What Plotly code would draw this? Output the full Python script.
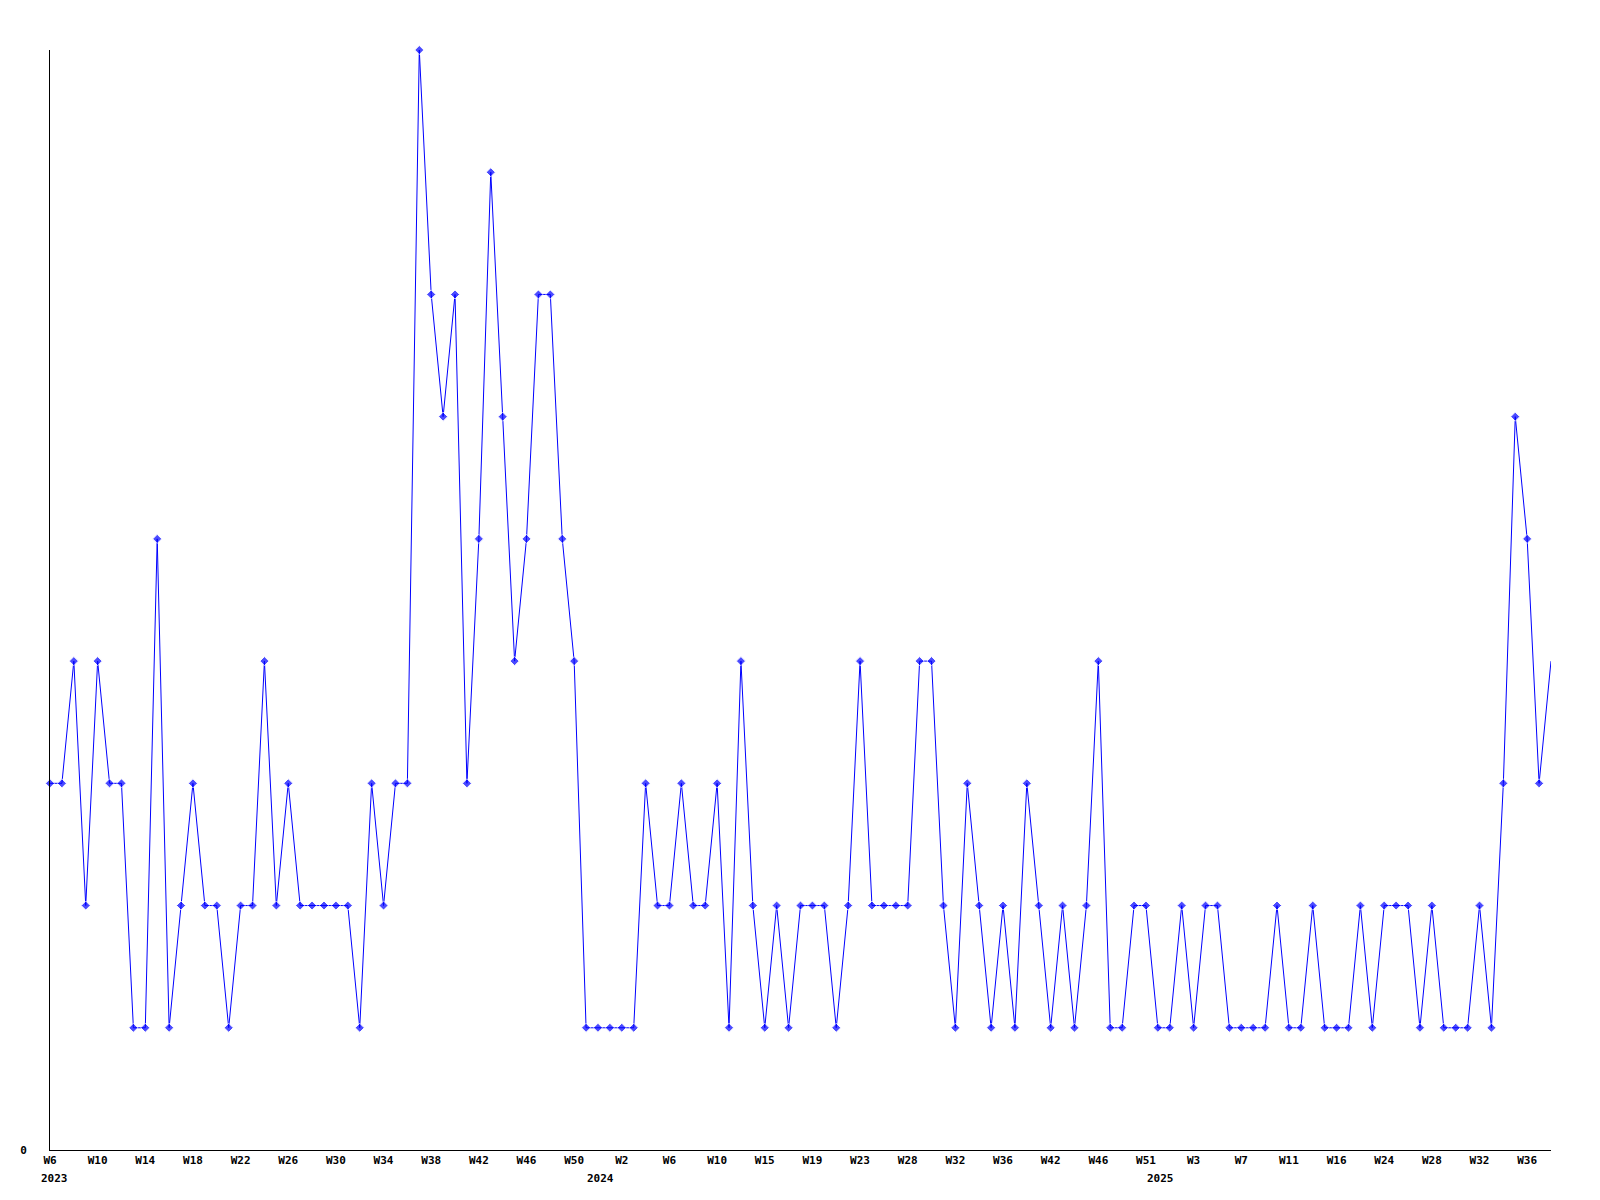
import plotly.graph_objects as go

# weekly values, 2023-W6 .. 2025-W38 (one point per reported week)
values = [
    3, 3, 4, 2, 4, 3, 3, 1, 1, 5,
    1, 2, 3, 2, 2, 1, 2, 2, 4, 2,
    3, 2, 2, 2, 2, 2, 1, 3, 2, 3,
    3, 9, 7, 6, 7, 3, 5, 8, 6, 4,
    5, 7, 7, 5, 4, 1, 1, 1, 1, 1,
    3, 2, 2, 3, 2, 2, 3, 1, 4, 2,
    1, 2, 1, 2, 2, 2, 1, 2, 4, 2,
    2, 2, 2, 4, 4, 2, 1, 3, 2, 1,
    2, 1, 3, 2, 1, 2, 1, 2, 4, 1,
    1, 2, 2, 1, 1, 2, 1, 2, 2, 1,
    1, 1, 1, 2, 1, 1, 2, 1, 1, 1,
    2, 1, 2, 2, 2, 1, 2, 1, 1, 1,
    2, 1, 3, 6, 5, 3, 4,
]

# tick labels shown every 4th point
tick_labels = [
    "W6", "W10", "W14", "W18", "W22", "W26", "W30", "W34", "W38", "W42",
    "W46", "W50", "W2", "W6", "W10", "W15", "W19", "W23", "W28", "W32",
    "W36", "W42", "W46", "W51", "W3", "W7", "W11", "W16", "W24", "W28",
    "W32", "W36",
]
tick_step = 4

years = ["2023", "2024", "2025"]
year_start_index = [0, 47, 94]  # index of first point belonging to each year

x = list(range(len(values)))
tickvals = [i * tick_step for i in range(len(tick_labels))]

FONT = dict(family="DejaVu Sans Mono", size=11, color="black", weight="bold")

fig = go.Figure()
fig.add_trace(go.Scatter(
    x=x, y=values, mode="lines+markers",
    line=dict(color="#0000ff", width=1),
    marker=dict(symbol="diamond", size=[7] * (len(values) - 1) + [0], color="#0000ff"),
    cliponaxis=False,
    hoverinfo="skip",
))

annotations = []
for k, (yr, idx) in enumerate(zip(years, year_start_index)):
    if k == 0:
        annotations.append(dict(x=idx, xref="x", y=0, yref="paper", text=yr,
                                showarrow=False, xanchor="left", yanchor="top",
                                xshift=-11, yshift=-20, font=FONT))
    else:
        annotations.append(dict(x=idx - 0.5, xref="x", y=0, yref="paper", text=yr,
                                showarrow=False, xanchor="center", yanchor="top",
                                xshift=-3, yshift=-20, font=FONT))

fig.update_layout(
    width=1600, height=1200,
    margin=dict(l=50, r=49, t=50, b=50),
    paper_bgcolor="white", plot_bgcolor="white",
    showlegend=False,
    font=FONT,
    annotations=annotations,
    xaxis=dict(
        range=[0, len(values) - 1], showgrid=False, zeroline=False,
        showline=True, linecolor="black", linewidth=1,
        tickmode="array", tickvals=tickvals, ticktext=tick_labels,
        ticks="", tickfont=FONT, fixedrange=True,
    ),
    yaxis=dict(
        range=[0, max(values)], showgrid=False, zeroline=False,
        showline=True, linecolor="black", linewidth=1,
        tickmode="array", tickvals=[0], ticktext=["0"],
        ticks="", tickfont=FONT, ticklabelstandoff=20, fixedrange=True,
    ),
)

fig.write_html("out.html", config={"displayModeBar": False},
               post_script="document.body.style.margin='0';")
